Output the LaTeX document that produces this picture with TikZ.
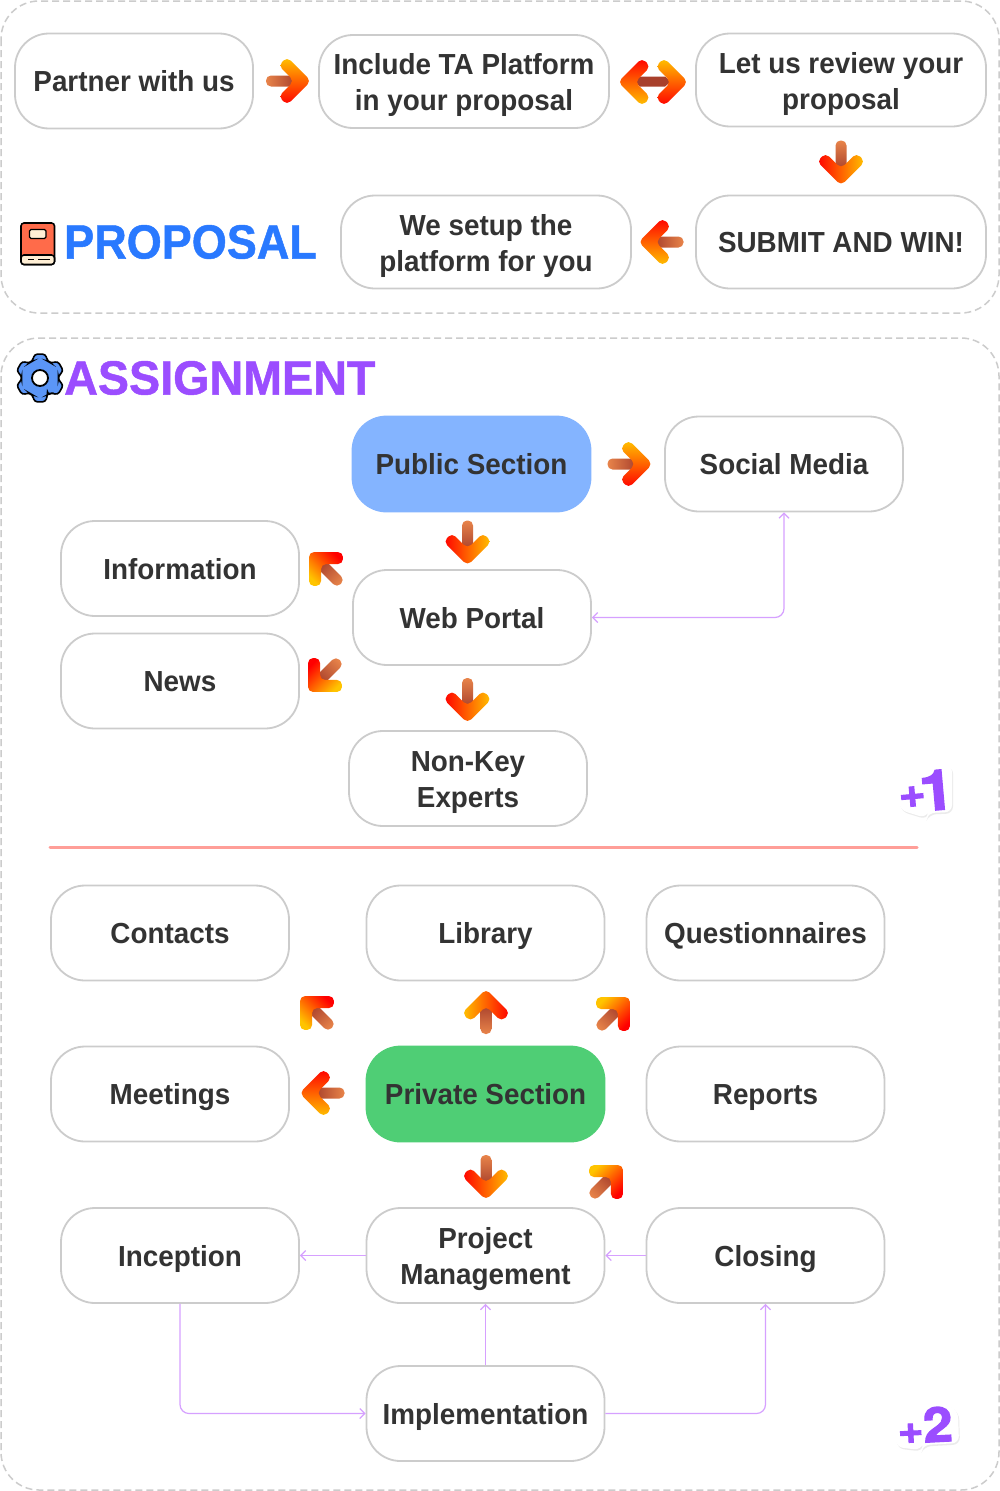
\documentclass[tikz,border=0pt]{standalone}
\usepackage{fontspec}
\setmainfont{Liberation Sans}[FakeStretch=0.96]
\newfontfamily\titlefont{Liberation Sans}[FakeStretch=0.96, FakeBold=1]
\newfontfamily\badgefont{TeX Gyre Heros}[FakeStretch=1.1, FakeBold=2.5]
\usepackage{tikz}
\usetikzlibrary{arrows.meta, shadows}

\definecolor{textdark}{HTML}{333333}
\definecolor{boxgray}{HTML}{CCCCCC}
\definecolor{linkpurple}{HTML}{D6A0FF}
\definecolor{titleblue}{HTML}{2979FF}
\definecolor{titlepurple}{HTML}{9B4DFF}
\definecolor{publicblue}{HTML}{84B4FF}
\definecolor{privategreen}{HTML}{4FCE75}
\definecolor{rulered}{HTML}{FF9E98}
\definecolor{headtop}{HTML}{FFC400}
\definecolor{headmid}{HTML}{FF9800}
\definecolor{headbot}{HTML}{FF0000}
\definecolor{shafttail}{HTML}{E8844A}
\definecolor{shaftdark}{HTML}{A8402C}
\definecolor{bookred}{HTML}{FF6B4A}
\definecolor{bookcream}{HTML}{FFEFD5}
\definecolor{gearblue}{HTML}{5B96F7}

\tikzset{
	pillbox/.style={draw=boxgray, line width=1.8pt, fill=white, rounded corners=34pt, align=center,
		minimum width=238pt, minimum height=95pt, inner sep=2pt, text=textdark,
		font=\fontsize{29}{36}\selectfont\bfseries,
		execute at begin node={\rule[-7pt]{0pt}{35pt}},
		execute at end node={\rule[-7pt]{0pt}{35pt}}},
	twolines/.style={execute at begin node={\rule[-7pt]{0pt}{72pt}}},
	widebox/.style={pillbox, minimum width=290pt, minimum height=93pt},
	panelbox/.style={draw=boxgray, line width=1.5pt, dash pattern=on 7pt off 4pt, rounded corners=38pt},
	linkline/.style={draw=linkpurple, line width=1.2pt, rounded corners=9pt,
		>={Straight Barb[length=5pt,width=10pt]}},
	bigtitle/.style={anchor=west, inner sep=0pt, font=\fontsize{48}{50}\selectfont\titlefont\bfseries},
	badgetext/.style={inner sep=0pt, text=titlepurple, font=\badgefont\bfseries},
	badgeback/.style={fill=white, rounded corners=7pt, drop shadow={shadow xshift=1pt, shadow yshift=-1.5pt, fill=black, opacity=0.08}},
	flowhead/.pic={
		\begin{scope}[rotate=#1]
			\path[top color=headtop, middle color=headmid, bottom color=headbot, shading angle=#1, rounded corners=5pt]
				(0,-24) -- (24,0) -- (0,24) -- (-8.5,15.5) -- (7,0) -- (-8.5,-15.5) -- cycle;
		\end{scope}
	},
	flowarrow/.pic={
		\pgfmathsetmacro\shaftangle{#1+90}
		\begin{scope}[rotate=#1]
			\path[top color=shafttail, bottom color=shaftdark, shading angle=\shaftangle, rounded corners=5pt]
				(-21,-5.5) rectangle (9,5.5);
		\end{scope}
		\pic {flowhead=#1};
	}
}

\begin{document}
\begin{tikzpicture}[x=1pt, y=-1pt]
	\useasboundingbox (0,0) rectangle (1000,1491);
	\fill[white] (0,0) rectangle (1000,1491);

	% panels
	\draw[panelbox] (1,1) rectangle (999,313);
	\draw[panelbox] (1,338) rectangle (999,1490);

	% proposal
	\node[pillbox] (partner) at (134,81) {Partner with us};
	\node[widebox, twolines] (include) at (464,81.5) {Include TA Platform\\in your proposal};
	\node[widebox, twolines] (review) at (841,80) {Let us review your\\proposal};
	\node[widebox] (submit) at (841,242) {SUBMIT AND WIN!};
	\node[widebox, twolines] (setup) at (486,242) {We setup the\\platform for you};
	\node[bigtitle, text=titleblue] (proposaltitle) at (64,242) {\scalebox{0.977}[1]{PROPOSAL}};

	\draw[line width=1.6pt, fill=bookred, rounded corners=3pt] (21,223) rectangle (54.5,264.5);
	\draw[line width=1.6pt, fill=bookcream, rounded corners=3pt] (21,255) rectangle (54.5,264.5);
	\draw[line width=1.4pt, fill=bookcream, rounded corners=1.5pt] (29.5,229.5) rectangle (46,238.5);
	\draw[line width=1pt] (28,259.5) -- (34,259.5) (38,259.5) -- (50,259.5);

	\pic at (287,81) {flowarrow=0};
	\path[left color=shaftdark, middle color=shafttail, right color=shaftdark]
		(634,81.5) -- (640,76.5) -- (665,76.5) -- (671,81.5) -- (665,86.5) -- (640,86.5) -- cycle;
	\pic at (664,82) {flowhead=0};
	\pic at (642,82) {flowhead=180};
	\pic at (841,161.5) {flowarrow=-90};
	\pic at (662.5,242) {flowarrow=180};

	% assignment, public part
	\draw[line width=1.6pt, fill=gearblue, rounded corners=3pt, shift={(40,378)}] (66:18.5)
		\foreach \a in {90,150,...,390} { -- (\a-24:18.5) -- (\a-13:24.5) -- (\a+13:24.5) -- (\a+24:18.5) } -- cycle;
	\draw[line width=1.8pt, fill=white] (40,378) circle (8);
	\node[bigtitle, text=titlepurple] (assigntitle) at (64,378) {\scalebox{1.013}[1]{ASSIGNMENT}};

	\node[pillbox, draw=publicblue, fill=publicblue] (public) at (471.5,464) {Public Section};
	\node[pillbox] (social) at (784,464) {Social Media};
	\node[pillbox] (information) at (180,568.5) {Information};
	\node[pillbox] (webportal) at (472,617.5) {Web Portal};
	\node[pillbox] (news) at (180,681) {News};
	\node[pillbox, twolines] (nonkey) at (468,778.5) {Non-Key\\Experts};

	\draw[linkline, <->] (social.south) |- (webportal.east);

	\pic at (628.5,464) {flowarrow=0};
	\pic at (467.5,541.5) {flowarrow=-90};
	\pic at (326,569) {flowarrow=135};
	\pic at (325,675) {flowarrow=225};
	\pic at (467.5,699) {flowarrow=-90};

	\fill[badgeback] (897,783) -- (918,782) -- (920,773) -- (952,765) -- (952,812) -- (928,813) -- (926,818) -- (900,810) -- cycle;
	\node[badgetext, rotate=5] (plusone) at (926,791) {\raisebox{5pt}{\fontsize{42}{42}\selectfont +}\hspace{-6pt}\fontsize{56}{56}\selectfont 1};

	\draw[rulered, line width=3pt, line cap=round] (50,847.5) -- (917,847.5);

	% assignment, private part
	\node[pillbox] (contacts) at (170,933) {Contacts};
	\node[pillbox] (library) at (485.5,933) {Library};
	\node[pillbox] (questionnaires) at (765.5,933) {Questionnaires};
	\node[pillbox] (meetings) at (170,1094) {Meetings};
	\node[pillbox, draw=privategreen, fill=privategreen] (private) at (485.5,1094) {Private Section};
	\node[pillbox] (reports) at (765.5,1094) {Reports};
	\node[pillbox] (inception) at (180,1255.5) {Inception};
	\node[pillbox, twolines] (management) at (485.5,1255.5) {Project\\Management};
	\node[pillbox] (closing) at (765.5,1255.5) {Closing};
	\node[pillbox] (implementation) at (485.5,1413.5) {Implementation};

	\draw[linkline, ->] (management.west) -- (inception.east);
	\draw[linkline, ->] (closing.west) -- (management.east);
	\draw[linkline, ->] (implementation.north) -- (management.south);
	\draw[linkline, ->] (inception.south) |- (implementation.west);
	\draw[linkline, ->] (implementation.east) -| (closing.south);

	\pic at (317,1013) {flowarrow=135};
	\pic at (486,1013) {flowarrow=90};
	\pic at (613,1014) {flowarrow=45};
	\pic at (323.5,1093) {flowarrow=180};
	\pic at (486,1176) {flowarrow=-90};
	\pic at (606,1182) {flowarrow=45};

	\fill[badgeback] (895,1420) -- (921,1418) -- (920,1410) -- (938,1399) -- (958,1411) -- (959,1443) -- (923,1445) -- (921,1450) -- (896,1447) -- cycle;
	\node[badgetext, rotate=3] (plustwo) at (925,1425) {\fontsize{40}{40}\selectfont +\fontsize{48}{48}\selectfont 2};
\end{tikzpicture}
\end{document}
